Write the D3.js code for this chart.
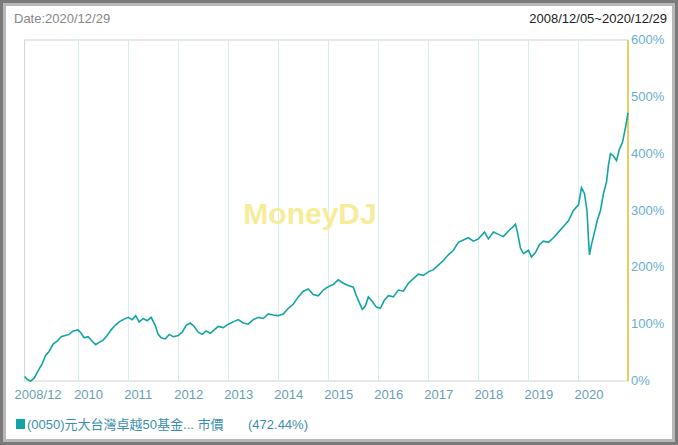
<!DOCTYPE html>
<html><head><meta charset="utf-8">
<script src="https://cdn.jsdelivr.net/npm/d3@7"></script>
<style>body{margin:0;background:#fff}svg{display:block;font-family:Arial,"Liberation Sans","Noto Sans CJK TC",sans-serif}</style>
</head><body><svg id="c" width="678" height="445"></svg>
<script>
const years = [2010,2011,2012,2013,2014,2015,2016,2017,2018,2019,2020];
const yTicks = [0,100,200,300,400,500,600];
const dates = [2008.93,2008.98,2009.05,2009.12,2009.2,2009.28,2009.35,2009.42,2009.5,2009.58,2009.66,2009.74,2009.82,2009.9,2010.0,2010.06,2010.12,2010.2,2010.28,2010.35,2010.42,2010.5,2010.58,2010.66,2010.74,2010.82,2010.9,2011.0,2011.08,2011.15,2011.22,2011.3,2011.38,2011.46,2011.54,2011.6,2011.66,2011.74,2011.82,2011.9,2012.0,2012.08,2012.16,2012.24,2012.32,2012.4,2012.48,2012.56,2012.64,2012.72,2012.8,2012.9,2013.0,2013.1,2013.2,2013.3,2013.4,2013.5,2013.6,2013.7,2013.8,2013.9,2014.0,2014.1,2014.2,2014.3,2014.4,2014.5,2014.6,2014.7,2014.8,2014.9,2015.0,2015.1,2015.2,2015.3,2015.4,2015.5,2015.56,2015.62,2015.68,2015.74,2015.8,2015.88,2015.96,2016.04,2016.12,2016.2,2016.3,2016.4,2016.5,2016.6,2016.7,2016.8,2016.9,2017.0,2017.1,2017.2,2017.3,2017.4,2017.5,2017.6,2017.7,2017.8,2017.9,2018.0,2018.06,2018.12,2018.2,2018.3,2018.4,2018.5,2018.6,2018.68,2018.74,2018.78,2018.84,2018.9,2019.0,2019.06,2019.14,2019.22,2019.3,2019.4,2019.5,2019.6,2019.7,2019.8,2019.9,2020.0,2020.06,2020.12,2020.17,2020.2,2020.22,2020.26,2020.32,2020.38,2020.44,2020.5,2020.56,2020.6,2020.64,2020.7,2020.76,2020.82,2020.88,2020.94,2020.99];
const values = [8,3,0,5,18,30,45,52,65,70,78,80,82,88,90,84,76,78,70,64,68,72,80,90,98,104,108,112,108,115,104,110,106,112,98,82,76,74,82,78,80,86,98,102,96,86,82,88,84,90,96,94,100,104,108,102,100,108,112,110,118,116,115,118,128,135,148,158,162,152,150,160,166,170,178,172,168,165,150,138,126,132,148,140,130,128,142,150,148,160,158,172,180,188,186,192,196,204,212,222,230,244,248,252,246,250,256,262,250,262,258,254,264,270,276,262,234,224,230,218,226,240,246,244,252,262,272,282,300,310,340,330,300,250,222,240,262,284,300,330,350,380,400,396,388,408,420,446,472];

const svg = d3.select("#c");
// frame
svg.append("rect").attr("width",678).attr("height",445).attr("fill","#7a7a7a");
svg.append("rect").attr("x",3).attr("y",3).attr("width",672).attr("height",439).attr("fill","#b8b8b8");
svg.append("rect").attr("x",6).attr("y",6).attr("width",666).attr("height",433).attr("fill","#fff");

const x0=24.6,x1=628,yT=40,yB=381;
const x = d3.scaleLinear().domain([2008.93,2020.99]).range([x0,x1]);
const y = d3.scaleLinear().domain([0,600]).range([yB,yT]);

svg.append("rect").attr("x",x0).attr("y",yT).attr("width",x1-x0).attr("height",yB-yT).attr("fill","none").attr("stroke","#d0d4d4");
svg.selectAll(".g").data(years).join("line").attr("x1",d=>Math.round(x(d))+.5).attr("x2",d=>Math.round(x(d))+.5)
  .attr("y1",yT).attr("y2",yB).attr("stroke","#d6eeee");

svg.append("text").attr("x",x(2008.93)-10).attr("y",399).attr("font-size",13).attr("fill","#6a9fb5").text("2008/12");
svg.selectAll(".xl").data(years).join("text").attr("x",d=>x(d)-4).attr("y",399).attr("font-size",13).attr("fill","#6a9fb5").text(d=>d);
svg.selectAll(".yl").data(yTicks).join("text").attr("x",631).attr("y",d=>y(d)+4).attr("font-size",13).attr("fill","#6aaed0").text(d=>d+"%");

svg.append("line").attr("x1",x1).attr("x2",x1).attr("y1",yT).attr("y2",yB).attr("stroke","#f0c030").attr("stroke-width",1.5);

svg.append("text").attr("x",310).attr("y",224).attr("text-anchor","middle").attr("font-size",30).attr("font-weight","bold").attr("fill","#f7ec9a").text("MoneyDJ");

svg.append("path").datum(dates.map((d,i)=>[d,values[i]])).attr("fill","none").attr("stroke","#12a5a5").attr("stroke-width",1.6)
  .attr("d",d3.line().x(d=>x(d[0])).y(d=>y(d[1])));

svg.append("text").attr("x",14).attr("y",23).attr("font-size",13).attr("fill","#888").text("Date:2020/12/29");
svg.append("text").attr("x",667).attr("y",23).attr("text-anchor","end").attr("font-size",13).attr("fill","#222").text("2008/12/05~2020/12/29");

svg.append("rect").attr("x",16).attr("y",419).attr("width",9).attr("height",10).attr("fill","#12a5a5");
svg.append("text").attr("x",27).attr("y",429).attr("font-size",13).attr("fill","#3a8fb0").text("(0050)元大台灣卓越50基金... 市價");
svg.append("text").attr("x",248).attr("y",429).attr("font-size",13).attr("fill","#3a8fb0").text("(472.44%)");
</script></body></html>
